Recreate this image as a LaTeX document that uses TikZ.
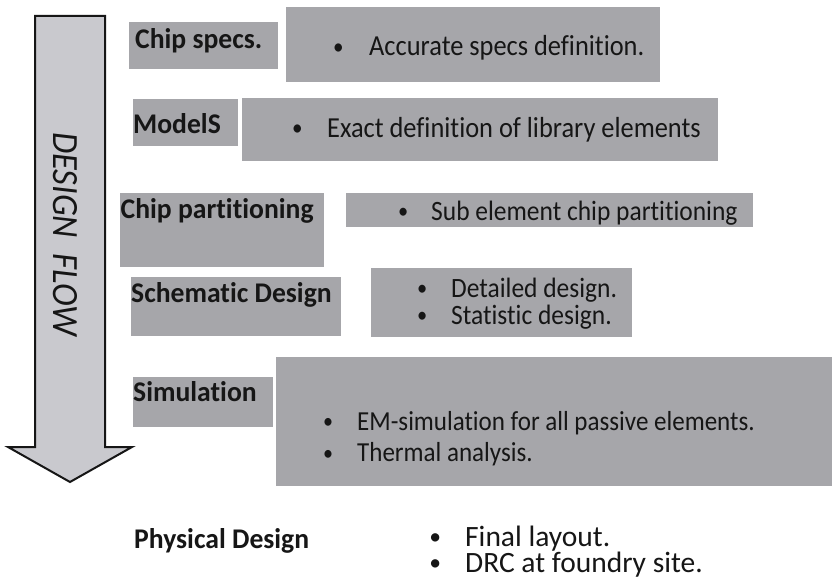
\documentclass[tikz,border=0pt]{standalone}
\usepackage{graphicx}
\usepackage{fontspec}
\defaultfontfeatures{Ligatures=NoCommon}
\setmainfont{Carlito}
\newfontfamily\bodyf[FakeStretch=0.91,Ligatures=NoCommon]{Carlito}
\newfontfamily\labf[FakeStretch=0.97,Ligatures=NoCommon]{Carlito}
\newfontfamily\flowf[FakeStretch=0.93,Ligatures=NoCommon]{Carlito}
\definecolor{boxgray}{RGB}{166,166,170}
\definecolor{arrowgray}{RGB}{201,201,206}
\definecolor{ink}{RGB}{22,22,22}
\newcommand{\mybul}[2]{\makebox[#1pt][l]{\hspace{0.05em}\raisebox{0.06em}{\scalebox{0.8}{•}}}#2}
\tikzset{
  gbox/.style={fill=boxgray, draw=none},
  lab/.style={anchor=base west, inner sep=0pt, text=ink, font=\labf\bfseries\fontsize{28.5}{34}\selectfont},
  bul/.style={anchor=base west, inner sep=0pt, text=ink, font=\bodyf\fontsize{#1}{34}\selectfont},
  bul/.default=29,
  phys/.style={anchor=base west, inner sep=0pt, text=ink, font=\normalfont\fontsize{29.5}{34}\selectfont},
}
\begin{document}
\begin{tikzpicture}[x=1pt,y=-1pt]
\useasboundingbox[fill=white] (0,0) rectangle (832,578);
% flow arrow
\draw[fill=arrowgray, draw=ink, line width=2pt, line join=miter]
  (35,16) -- (105,16) -- (105,447) -- (132,447) -- (70,482) -- (8,447) -- (35,447) -- cycle;
\node[rotate=-90, anchor=base west, inner sep=0pt, text=ink, font=\flowf\itshape\fontsize{37}{40}\selectfont]
  (flow) at (53,132) {DESIGN\hspace{16pt}FLOW};
% label boxes
\fill[gbox] (129,22) rectangle (278,69);
\fill[gbox] (133,99) rectangle (238,146);
\fill[gbox] (120,193) rectangle (324,267);
\fill[gbox] (131,277) rectangle (341,336);
\fill[gbox] (133,377) rectangle (273,427);
% bullet boxes
\fill[gbox] (286,7) rectangle (660,82);
\fill[gbox] (242,98) rectangle (718,161);
\fill[gbox] (346,193) rectangle (753,227);
\fill[gbox] (371,268) rectangle (632,337);
\fill[gbox] (276,357) rectangle (832,486);
% labels
\node[lab] (l1) at (135,48.3) {Chip specs.};
\node[lab] (l2) at (133,133.3) {ModelS};
\node[lab] (l3) at (120.5,218) {Chip partitioning};
\node[lab] (l4) at (131,302.7) {Schematic Design};
\node[lab] (l5) at (133,401.7) {Simulation};
\node[lab] (l6) at (134,548.5) {Physical Design};
% bullet texts
\node[bul] (b1) at (331.5,56) {\mybul{37.5}{Accurate specs definition.}};
\node[bul] (b2) at (290.5,137) {\mybul{36.5}{Exact definition of library elements}};
\node[bul=28] (b3) at (396.5,220.5) {\mybul{34.5}{Sub element chip partitioning}};
\node[bul=28] (b4a) at (415.5,297) {\mybul{35.5}{Detailed design.}};
\node[bul=28] (b4b) at (415.5,324) {\mybul{35.5}{Statistic design.}};
\node[bul=27.5] (b5a) at (321.5,430) {\mybul{35.5}{EM-simulation for all passive elements.}};
\node[bul=27.5] (b5b) at (321.5,461.7) {\mybul{35.5}{Thermal analysis.}};
\node[phys] (b6a) at (427.6,546) {\mybul{37.4}{Final layout.}};
\node[phys] (b6b) at (427.6,572) {\mybul{37.4}{DRC at foundry site.}};
\end{tikzpicture}
\end{document}
